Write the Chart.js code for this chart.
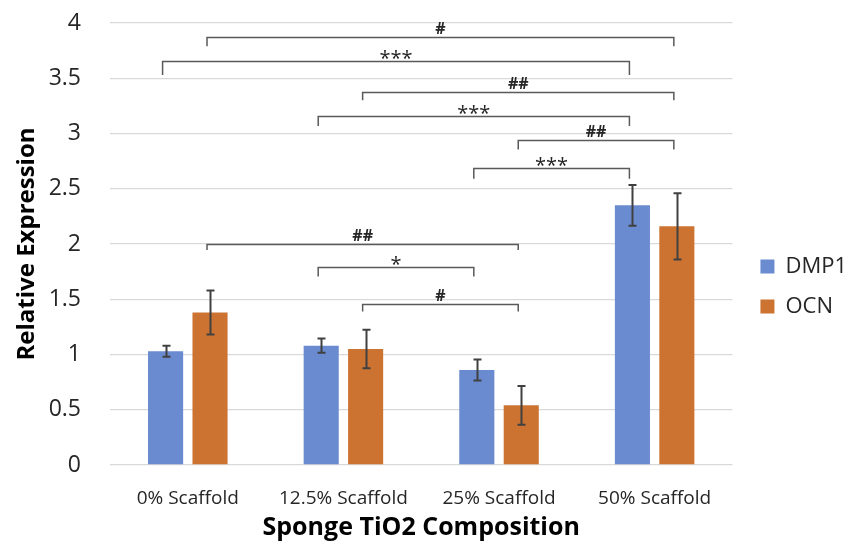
<!DOCTYPE html>
<html>
<head>
<meta charset="utf-8">
<script src="https://cdn.jsdelivr.net/npm/chart.js@4.4.1/dist/chart.umd.min.js"></script>
<style>
  html, body { margin: 0; padding: 0; background: #fff; }
  #wrap { width: 847px; height: 548px; }
</style>
</head>
<body>
<div id="wrap"><canvas id="grafico" width="847" height="548"></canvas></div>
<script>
var categorie = ['0% Scaffold', '12.5% Scaffold', '25% Scaffold', '50% Scaffold'];
var dmp1 = [1.03, 1.08, 0.86, 2.35];
var dmp1_err = [0.05, 0.065, 0.095, 0.185];
var ocn = [1.38, 1.05, 0.54, 2.16];
var ocn_err = [0.2, 0.175, 0.175, 0.3];
var tick_y = [0, 0.5, 1, 1.5, 2, 2.5, 3, 3.5, 4];

// significance brackets: serie (0 DMP1, 1 OCN), from, to, line level, drop end, label
var parentesi = [
  [1, 0, 3, 3.87, 3.79, '#'],
  [0, 0, 3, 3.66, 3.53, '***'],
  [1, 1, 3, 3.375, 3.30, '##'],
  [0, 1, 3, 3.157, 3.067, '***'],
  [1, 2, 3, 2.94, 2.855, '##'],
  [0, 2, 3, 2.685, 2.59, '***'],
  [1, 0, 2, 2.0, 1.945, '##'],
  [0, 1, 2, 1.795, 1.705, '*'],
  [1, 1, 2, 1.457, 1.39, '#']
];

var FONT = "'Open Sans', 'Noto Sans', sans-serif";

var erroriPlugin = {
  id: 'errori',
  afterDatasetsDraw: function(chart){
    var ctx = chart.ctx;
    var y = chart.scales.y;
    var errs = [dmp1_err, ocn_err];
    ctx.save();
    ctx.strokeStyle = '#404040';
    ctx.lineWidth = 2;
    chart.data.datasets.forEach(function(ds, d){
      var meta = chart.getDatasetMeta(d);
      meta.data.forEach(function(bar, i){
        var v = ds.data[i], e = errs[d][i];
        var x = Math.round(bar.x) + 0.5;
        var y1 = y.getPixelForValue(v + e), y2 = y.getPixelForValue(v - e);
        ctx.beginPath();
        ctx.moveTo(x, y1); ctx.lineTo(x, y2);
        ctx.moveTo(x - 4, y1); ctx.lineTo(x + 4, y1);
        ctx.moveTo(x - 4, y2); ctx.lineTo(x + 4, y2);
        ctx.stroke();
      });
    });
    ctx.restore();
  }
};

var parentesiPlugin = {
  id: 'parentesi',
  afterDraw: function(chart){
    var ctx = chart.ctx;
    var y = chart.scales.y;
    ctx.save();
    ctx.strokeStyle = '#5a5a5a';
    ctx.lineWidth = 1.5;
    ctx.fillStyle = '#262626';
    ctx.textAlign = 'center';
    ctx.textBaseline = 'alphabetic';
    parentesi.forEach(function(p){
      var meta = chart.getDatasetMeta(p[0]);
      var xa = meta.data[p[1]].x - 3;
      var xb = meta.data[p[2]].x - 3;
      var yl = Math.round(y.getPixelForValue(p[3])) + 0.5;
      var yf = y.getPixelForValue(p[4]);
      ctx.beginPath();
      ctx.moveTo(xa, yf); ctx.lineTo(xa, yl); ctx.lineTo(xb, yl); ctx.lineTo(xb, yf);
      ctx.stroke();
      var star = p[5].indexOf('*') >= 0;
      ctx.font = star ? '20px ' + FONT : 'bold 16px ' + FONT;
      var m = ctx.measureText(p[5]);
      var gap = star ? 3 : 4;
      ctx.fillText(p[5], (xa + xb) / 2, yl - gap - m.actualBoundingBoxDescent);
    });
    ctx.restore();
  }
};

// nudge the legend, keeping the plot edge where it is
var legendaPlugin = {
  id: 'spostaLegenda',
  afterLayout: function(chart){
    chart.legend.left += 10;
    chart.legend.right += 10;
    chart.legend.top += 2;
  }
};

var chart = new Chart(document.getElementById('grafico'), {
  type: 'bar',
  data: {
    labels: categorie,
    datasets: [
      { label: 'DMP1', data: dmp1, backgroundColor: '#6a8bd0', categoryPercentage: 0.571, barPercentage: 0.79 },
      { label: 'OCN', data: ocn, backgroundColor: '#cc7332', categoryPercentage: 0.571, barPercentage: 0.79 }
    ]
  },
  options: {
    responsive: false,
    animation: false,
    layout: { padding: { top: 23, right: 0, bottom: 0, left: 0 } },
    plugins: {
      tooltip: { enabled: false },
      legend: {
        position: 'right',
        maxWidth: 116,
        labels: {
          boxWidth: 14,
          boxHeight: 14,
          padding: 18,
          color: '#262626',
          font: { family: FONT, size: 22 }
        }
      }
    },
    scales: {
      x: {
        grid: { display: false },
        border: { display: false },
        ticks: { color: '#262626', padding: 14, font: { family: FONT, size: 19 } },
        title: { display: true, text: 'Sponge TiO2 Composition', color: '#000', padding: { top: 0, bottom: 5 }, font: { family: FONT, size: 25, weight: 'bold' } },
        afterFit: function(s){ s.height = 83; }
      },
      y: {
        min: 0,
        max: 4,
        grid: { color: '#d9d9d9', lineWidth: 1.3, drawTicks: false },
        border: { display: false },
        afterBuildTicks: function(s){ s.ticks = tick_y.map(function(v){ return { value: v }; }); },
        ticks: {
          color: '#262626', padding: 29, font: { family: FONT, size: 23 },
          callback: function(v){ return String(v); }
        },
        title: { display: true, text: 'Relative Expression', color: '#000', padding: { top: 13, bottom: 0 }, font: { family: FONT, size: 24, weight: 'bold' } },
        afterFit: function(s){
          s.width = 110;
          s.paddingTop = 0;
          s.paddingBottom = 0;
        }
      }
    }
  },
  plugins: [erroriPlugin, parentesiPlugin, legendaPlugin]
});
</script>
</body>
</html>
